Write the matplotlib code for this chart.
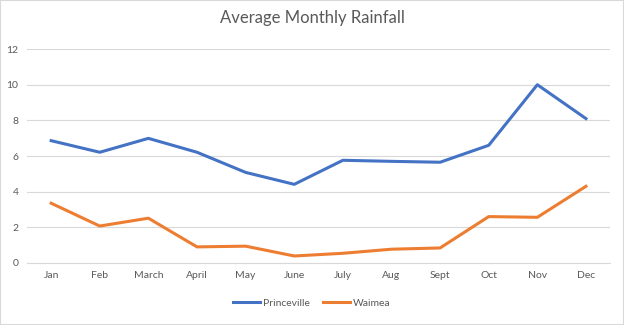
import matplotlib.pyplot as plt
from matplotlib.patches import Rectangle

months = ["Jan", "Feb", "March", "April", "May", "June", "July", "Aug", "Sept", "Oct", "Nov", "Dec"]
princeville = [6.86, 6.21, 6.99, 6.21, 5.08, 4.41, 5.76, 5.70, 5.65, 6.60, 10.0, 8.10]
waimea = [3.35, 2.07, 2.51, 0.90, 0.94, 0.39, 0.54, 0.77, 0.84, 2.60, 2.56, 4.30]

plt.rcParams['font.family'] = ['Lato', 'DejaVu Sans']
grey = "#595959"

fig = plt.figure(figsize=(6.24, 3.25), dpi=100)
ax = fig.add_axes([0.043, 0.191, 0.935, 0.658])

x = range(len(months))
ax.plot(x, princeville, color="#4472C4", lw=2.2, label="Princeville", solid_joinstyle="round")
ax.plot(x, waimea, color="#ED7D31", lw=2.2, label="Waimea", solid_joinstyle="round")

ax.set_xlim(-0.5, 11.5)
ax.set_ylim(0, 12)
ax.set_yticks(range(0, 13, 2))
ax.set_xticks(list(x))
ax.set_xticklabels(months)
ax.grid(axis="y", color="#d9d9d9", lw=0.8)
ax.set_axisbelow(True)
for s in ["top", "right", "left"]:
    ax.spines[s].set_visible(False)
ax.spines["bottom"].set_color("#d9d9d9")
ax.tick_params(length=0, labelsize=7.5, colors=grey)
ax.tick_params(axis="x", pad=6)
ax.tick_params(axis="y", pad=6)

fig.suptitle("Average Monthly Rainfall", y=0.968, fontsize=12, color=grey)
fig.legend(loc="center", bbox_to_anchor=(0.5, 0.068), ncol=2, frameon=False,
           fontsize=7.5, labelcolor=grey, handlelength=2.6, handletextpad=0.3, columnspacing=1.2)

fig.patches.append(Rectangle((0, 0), 1, 1, transform=fig.transFigure, fill=False,
                             edgecolor="#d9d9d9", lw=1.5))

fig.savefig("out.png", dpi=100)
